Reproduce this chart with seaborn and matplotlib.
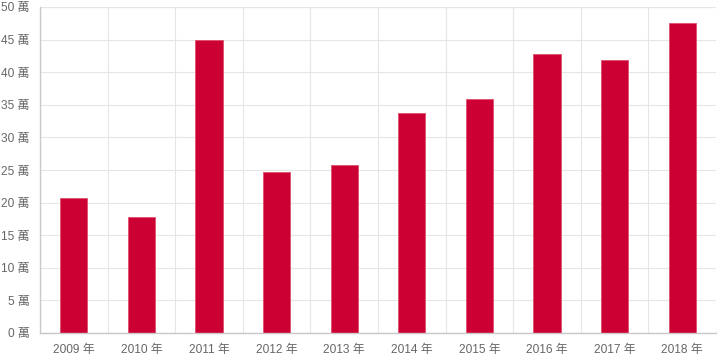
import numpy as np
import pandas as pd
import matplotlib
matplotlib.use("Agg")
import matplotlib.pyplot as plt
import seaborn as sns

years = ["2009 年", "2010 年", "2011 年", "2012 年", "2013 年",
         "2014 年", "2015 年", "2016 年", "2017 年", "2018 年"]
values = [20.7, 17.8, 44.9, 24.7, 25.8, 33.7, 35.9, 42.8, 41.9, 47.5]
y_ticks = [0, 5, 10, 15, 20, 25, 30, 35, 40, 45, 50]
y_labels = [f"{v} 萬" for v in y_ticks]

sns.set_style("white")
plt.rcParams['font.family'] = ['Liberation Sans', 'Noto Sans CJK TC', 'DejaVu Sans']

df = pd.DataFrame({"year": years, "value": values})

fig = plt.figure(figsize=(7.2, 3.6), dpi=100)
ax = fig.add_axes([40 / 720, 27 / 360, 676 / 720, 326 / 360])

sns.barplot(data=df, x="year", y="value", color="#cc0033", width=0.4,
            saturation=1, edgecolor="#e0506f", linewidth=0.6, ax=ax)

ax.set_xlim(-0.5, len(years) - 0.5)
ax.set_ylim(0, 50)
ax.set_yticks(y_ticks)
ax.set_yticklabels(y_labels)
ax.set_xlabel("")
ax.set_ylabel("")

# grid lines between categories, like the reference
ax.set_xticks(np.arange(-0.5, len(years)), minor=True)
ax.grid(True, which="minor", axis="x", color="#e6e6e6", linewidth=0.8)
ax.grid(True, which="major", axis="y", color="#e6e6e6", linewidth=0.8)
ax.set_axisbelow(True)
ax.tick_params(axis="x", which="major", length=0, pad=8, labelsize=8.6, labelcolor="#666666")
ax.tick_params(axis="x", which="minor", length=7, color="#e0e0e0", width=0.8)
ax.tick_params(axis="y", length=6, color="#e0e0e0", width=0.8, pad=1.5,
               labelsize=8.6, labelcolor="#666666")

for side in ["top", "right"]:
    ax.spines[side].set_visible(False)
ax.spines["left"].set_color("#c8c8c8")
ax.spines["bottom"].set_color("#c8c8c8")
ax.spines["left"].set_linewidth(1)
ax.spines["bottom"].set_linewidth(1)

# top edge grid line
ax.axhline(50, color="#e6e6e6", linewidth=0.8, zorder=0)

fig.savefig("out.png", dpi=100)
